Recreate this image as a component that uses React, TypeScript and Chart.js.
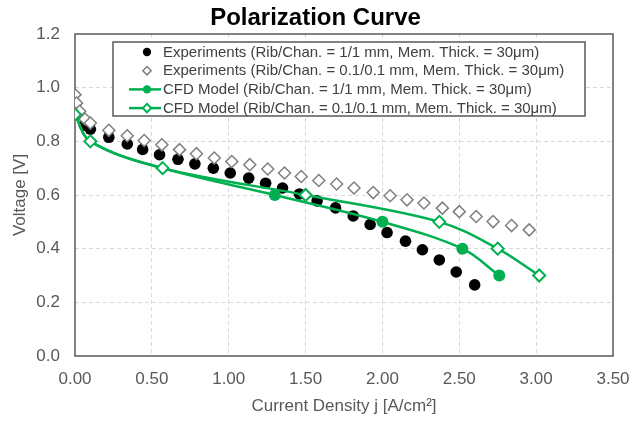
import React, { useEffect, useRef } from 'react';
import { Chart, registerables } from 'chart.js';

Chart.register(...registerables);

const chartTitle = 'Polarization Curve';
const xAxisTitle = 'Current Density j [A/cm²]';
const yAxisTitle = 'Voltage [V]';

const seriesLabels = [
  'Experiments (Rib/Chan. = 1/1 mm, Mem. Thick. = 30μm)',
  'Experiments (Rib/Chan. = 0.1/0.1 mm, Mem. Thick. = 30μm)',
  'CFD Model (Rib/Chan. = 1/1 mm, Mem. Thick. = 30μm)',
  'CFD Model (Rib/Chan. = 0.1/0.1 mm, Mem. Thick. = 30μm)',
];

// Experiments, Rib/Chan. = 1/1 mm
const expA_x = [0.005, 0.03, 0.06, 0.1, 0.22, 0.34, 0.44, 0.55, 0.67, 0.78, 0.9, 1.01, 1.13, 1.24, 1.35, 1.46, 1.575, 1.695, 1.81, 1.92, 2.03, 2.15, 2.26, 2.37, 2.48, 2.6];
const expA_y = [0.94, 0.9, 0.86, 0.845, 0.815, 0.79, 0.77, 0.75, 0.733, 0.716, 0.7, 0.682, 0.663, 0.644, 0.626, 0.604, 0.578, 0.552, 0.522, 0.49, 0.46, 0.428, 0.396, 0.358, 0.313, 0.265];

// Experiments, Rib/Chan. = 0.1/0.1 mm
const expB_x = [0, 0.01, 0.03, 0.065, 0.1, 0.22, 0.34, 0.45, 0.565, 0.68, 0.79, 0.906, 1.02, 1.137, 1.254, 1.363, 1.472, 1.586, 1.702, 1.815, 1.94, 2.05, 2.16, 2.27, 2.39, 2.5, 2.61, 2.72, 2.84, 2.955];
const expB_y = [0.974, 0.943, 0.912, 0.883, 0.868, 0.841, 0.821, 0.803, 0.787, 0.769, 0.754, 0.738, 0.725, 0.713, 0.697, 0.682, 0.669, 0.654, 0.641, 0.626, 0.609, 0.597, 0.582, 0.57, 0.551, 0.538, 0.52, 0.501, 0.486, 0.47];

// CFD Model, Rib/Chan. = 1/1 mm
const cfdA_x = [0, 0.1, 0.57, 1.3, 2.0, 2.52, 2.76];
const cfdA_y = [0.9, 0.8, 0.7, 0.6, 0.5, 0.4, 0.3];

// CFD Model, Rib/Chan. = 0.1/0.1 mm
const cfdB_x = [0, 0.1, 0.57, 1.5, 2.37, 2.75, 3.02];
const cfdB_y = [0.9, 0.8, 0.7, 0.6, 0.5, 0.4, 0.3];

const xTicks = [0, 0.5, 1, 1.5, 2, 2.5, 3, 3.5];
const yTicks = [0, 0.2, 0.4, 0.6, 0.8, 1.0, 1.2];

const FONT = '"Liberation Sans", Arial, Helvetica, sans-serif';
const GREEN = '#00B050';
const AXIS_GREY = '#595959';

const toPoints = (xs: number[], ys: number[]) => xs.map((x, i) => ({ x, y: ys[i] }));

const framePlugin = {
  id: 'frame',
  beforeDatasetsDraw(chart: any) {
    const { ctx, chartArea } = chart;
    ctx.save();
    ctx.strokeStyle = AXIS_GREY;
    ctx.lineWidth = 1.5;
    ctx.strokeRect(chartArea.left, chartArea.top, chartArea.right - chartArea.left, chartArea.bottom - chartArea.top);
    ctx.restore();
  },
};

function drawMarker(ctx: CanvasRenderingContext2D, style: string, x: number, y: number, r: number, fill: string, stroke: string, lw: number) {
  ctx.beginPath();
  if (style === 'rectRot') {
    ctx.moveTo(x - r, y);
    ctx.lineTo(x, y - r);
    ctx.lineTo(x + r, y);
    ctx.lineTo(x, y + r);
    ctx.closePath();
  } else {
    ctx.arc(x, y, r, 0, Math.PI * 2);
  }
  ctx.fillStyle = fill;
  ctx.fill();
  if (lw > 0) {
    ctx.strokeStyle = stroke;
    ctx.lineWidth = lw;
    ctx.stroke();
  }
}

const legendPlugin = {
  id: 'boxLegend',
  afterDatasetsDraw(chart: any) {
    const { ctx, chartArea } = chart;
    const x0 = chartArea.left + 38;
    const y0 = chartArea.top + 8;
    const w = 472;
    const h = 74;
    ctx.save();
    ctx.fillStyle = '#ffffff';
    ctx.fillRect(x0, y0, w, h);
    ctx.strokeStyle = AXIS_GREY;
    ctx.lineWidth = 1.5;
    ctx.strokeRect(x0, y0, w, h);
    ctx.font = `15px ${FONT}`;
    ctx.textBaseline = 'middle';
    ctx.textAlign = 'left';
    chart.data.datasets.forEach((ds: any, i: number) => {
      const cy = y0 + 10 + i * 18.7;
      const mx = x0 + 34;
      if (ds.showLine) {
        ctx.beginPath();
        ctx.strokeStyle = ds.borderColor;
        ctx.lineWidth = ds.borderWidth;
        ctx.moveTo(x0 + 16, cy);
        ctx.lineTo(x0 + 48, cy);
        ctx.stroke();
      }
      drawMarker(ctx, ds.pointStyle, mx, cy, 4.2, ds.pointBackgroundColor, ds.pointBorderColor, ds.pointBorderWidth);
      ctx.fillStyle = '#404040';
      ctx.fillText(ds.label, x0 + 50, cy + 0.5);
    });
    ctx.restore();
  },
};

export default function App() {
  const canvasRef = useRef<HTMLCanvasElement | null>(null);

  useEffect(() => {
    if (!canvasRef.current) return;
    const xMax = xTicks[xTicks.length - 1];
    const yMax = yTicks[yTicks.length - 1];
    const chart = new Chart(canvasRef.current, {
      type: 'scatter',
      data: {
        datasets: [
          {
            label: seriesLabels[0],
            data: toPoints(expA_x, expA_y),
            showLine: false,
            pointStyle: 'circle',
            pointRadius: 5.8,
            pointBackgroundColor: '#000000',
            pointBorderColor: '#000000',
            pointBorderWidth: 0,
            borderColor: '#000000',
            order: 3,
          },
          {
            label: seriesLabels[1],
            data: toPoints(expB_x, expB_y),
            showLine: false,
            pointStyle: 'rectRot',
            pointRadius: 6,
            pointBackgroundColor: '#ffffff',
            pointBorderColor: '#7f7f7f',
            pointBorderWidth: 1.5,
            borderColor: '#7f7f7f',
            order: 2,
          },
          {
            label: seriesLabels[2],
            data: toPoints(cfdA_x, cfdA_y),
            showLine: true,
            tension: 0.35,
            borderColor: GREEN,
            borderWidth: 2.5,
            pointStyle: 'circle',
            pointRadius: (c: any) => (c.dataIndex < 3 ? 0 : 6),
            pointBackgroundColor: GREEN,
            pointBorderColor: GREEN,
            pointBorderWidth: 0,
            order: 1,
          },
          {
            label: seriesLabels[3],
            data: toPoints(cfdB_x, cfdB_y),
            showLine: true,
            tension: 0.35,
            borderColor: GREEN,
            borderWidth: 2.5,
            pointStyle: 'rectRot',
            pointRadius: 6,
            pointBackgroundColor: '#ffffff',
            pointBorderColor: GREEN,
            pointBorderWidth: 2,
            order: 0,
          },
        ] as any,
      },
      options: {
        animation: false,
        responsive: true,
        maintainAspectRatio: false,
        layout: { padding: { left: 0, right: 0, top: 0, bottom: 0 } },
        plugins: {
          legend: { display: false },
          tooltip: { enabled: false },
          title: {
            display: true,
            text: chartTitle,
            color: '#000000',
            font: { family: FONT, size: 24, weight: 'bold' },
            padding: { top: 4, bottom: 1.2 },
          },
        },
        scales: {
          x: {
            type: 'linear',
            min: xTicks[0],
            max: xMax,
            afterBuildTicks: (s: any) => { s.ticks = xTicks.map((v) => ({ value: v })); },
            afterFit: (s: any) => { s.height = 65; s.paddingLeft = 0; s.paddingRight = 18; },
            ticks: {
              color: AXIS_GREY,
              font: { family: FONT, size: 17 },
              padding: 13,
              maxRotation: 0,
              callback: (v: any) => Number(v).toFixed(2),
            },
            grid: {
              drawTicks: false,
              color: (c: any) => (c.tick && (c.tick.value === xTicks[0] || c.tick.value === xMax) ? 'rgba(0,0,0,0)' : '#d9d9d9'),
              lineWidth: 1,
              borderDash: [4, 3],
            },
            border: { display: false, dash: [4, 3] },
            title: {
              display: true,
              text: xAxisTitle,
              color: AXIS_GREY,
              font: { family: FONT, size: 17 },
              padding: { top: 0, bottom: 4.8 },
            },
          },
          y: {
            type: 'linear',
            min: yTicks[0],
            max: yMax,
            afterBuildTicks: (s: any) => { s.ticks = yTicks.map((v) => ({ value: v })); },
            afterFit: (s: any) => { s.width = 75; s.paddingTop = 0; s.paddingBottom = 0; },
            ticks: {
              color: AXIS_GREY,
              font: { family: FONT, size: 17 },
              padding: 15,
              callback: (v: any) => Number(v).toFixed(1),
            },
            grid: {
              drawTicks: false,
              color: (c: any) => (c.tick && (c.tick.value === yTicks[0] || c.tick.value === yMax) ? 'rgba(0,0,0,0)' : '#d9d9d9'),
              lineWidth: 1,
              borderDash: [4, 3],
            },
            border: { display: false, dash: [4, 3] },
            title: {
              display: true,
              text: yAxisTitle,
              color: AXIS_GREY,
              font: { family: FONT, size: 17 },
              padding: { top: 10, bottom: 0 },
            },
          },
        },
      } as any,
      plugins: [framePlugin, legendPlugin],
    });
    return () => chart.destroy();
  }, []);

  return (
    <div style={{ position: 'absolute', left: 0, top: 0, width: 631, height: 421, background: '#ffffff' }}>
      <canvas ref={canvasRef} />
    </div>
  );
}
